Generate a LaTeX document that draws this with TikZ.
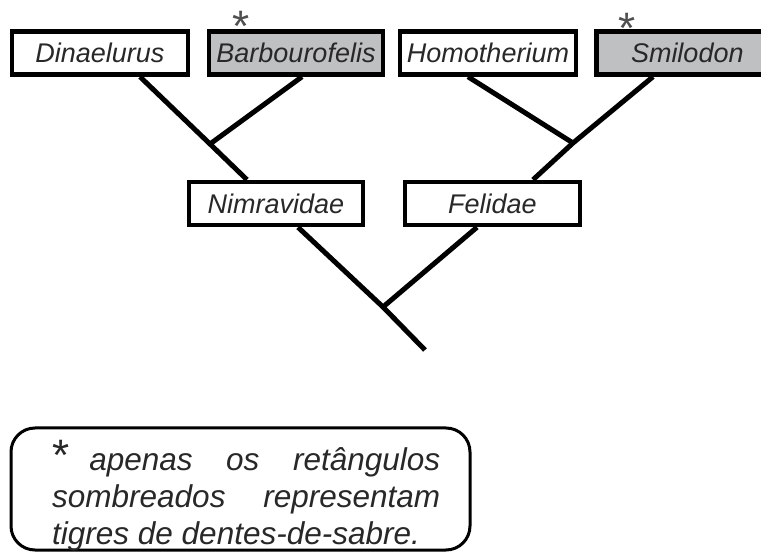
\documentclass[tikz,border=0pt]{standalone}
\usepackage{fontspec}
\setmainfont{Liberation Sans}
\definecolor{shade}{RGB}{190,192,194}
\definecolor{ink}{RGB}{40,40,40}
\definecolor{stargray}{RGB}{80,80,80}
\newcommand{\tightstar}{\raisebox{-0.42em}[0.30em][0pt]{*}}
\begin{document}
\begin{tikzpicture}[x=1pt,y=-1pt,
  taxon/.style={draw=black,line width=4.5pt,fill=white,minimum height=43pt,
    inner sep=0pt,text=ink,font=\fontsize{27}{30}\selectfont\itshape},
  sabre/.style={taxon,fill=shade},
  branch/.style={line width=5pt,line cap=butt},
  starmark/.style={text=stargray,inner sep=0pt,anchor=south,font=\fontsize{44}{44}\selectfont}]
\useasboundingbox (0,0) rectangle (761,553);
\clip (0,0) rectangle (761,553);
\fill[white] (0,0) rectangle (761,553);
% leaves
\node[taxon,minimum width=176pt] (din) at (100,53) {Dinaelurus};
\node[sabre,minimum width=174pt] (bar) at (296,53) {Barbourofelis};
\node[taxon,minimum width=176pt] (hom) at (488,53) {Homotherium};
\node[sabre,minimum width=191pt,text width=160pt,align=left] (smi) at (692,53) {\hspace*{19pt}Smilodon};
% families
\node[taxon,minimum width=174pt] (nim) at (276,203.5) {Nimravidae};
\node[taxon,minimum width=175pt] (fel) at (492.5,203.5) {Felidae};
% asterisks
\node[starmark] (s1) at (241,23) {\tightstar};
\node[starmark] (s2) at (627,25) {\tightstar};
% junctions
\coordinate (j1) at (210,144);
\coordinate (j2) at (573,143);
\coordinate (j3) at (383,307);
\coordinate (root) at (425,350);
% branches
\draw[branch] ([xshift=40pt]din.south) -- (j1) -- ([xshift=-29pt]nim.north);
\draw[branch] ([xshift=6pt]bar.south) -- (j1);
\draw[branch] ([xshift=-20pt]hom.south) -- (j2);
\draw[branch] ([xshift=-39pt]smi.south) -- (j2) -- ([xshift=40.5pt]fel.north);
\draw[branch] ([xshift=22pt]nim.south) -- (j3) -- (root);
\draw[branch] ([xshift=-15.5pt]fel.south) -- (j3);
% legend
\draw[line width=3pt,rounded corners=24pt] (11,428) rectangle (470,550);
\node[anchor=base west,inner sep=0pt,text width=388pt,align=justify,text=ink,
  font=\fontsize{31.5}{37}\selectfont\itshape] (legend) at (52,470)
  {{\fontsize{44}{44}\selectfont\upshape *}\hspace{20pt}apenas os retângulos\linebreak sombreados representam\linebreak tigres de dentes-de-sabre.};
\end{tikzpicture}
\end{document}
